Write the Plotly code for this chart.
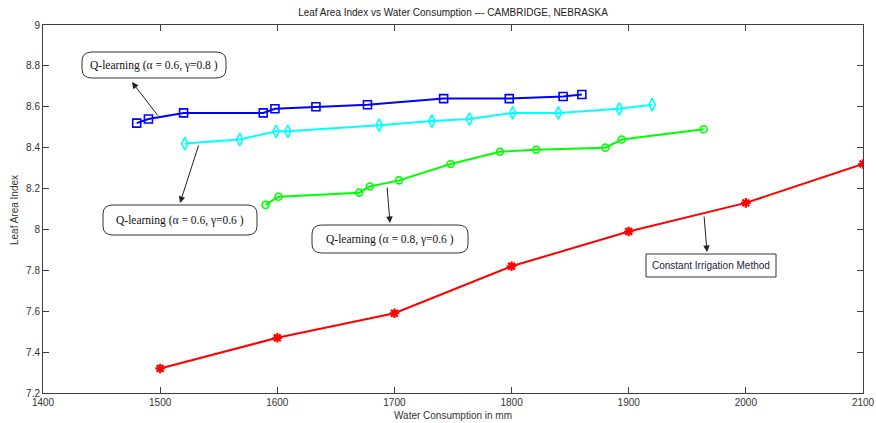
import plotly.graph_objects as go

# ---- data ----
blue_x = [1480, 1490, 1520, 1588, 1598, 1633, 1677, 1742, 1798, 1844, 1860]
blue_y = [8.52, 8.54, 8.57, 8.57, 8.59, 8.60, 8.61, 8.64, 8.64, 8.65, 8.66]
cyan_x = [1521, 1568, 1599, 1609, 1687, 1732, 1764, 1801, 1840, 1892, 1920]
cyan_y = [8.42, 8.44, 8.48, 8.48, 8.51, 8.53, 8.54, 8.57, 8.57, 8.59, 8.61]
green_x = [1590, 1601, 1670, 1679, 1704, 1748, 1790, 1821, 1880, 1894, 1964]
green_y = [8.12, 8.16, 8.18, 8.21, 8.24, 8.32, 8.38, 8.39, 8.40, 8.44, 8.49]
red_x = [1500, 1600, 1700, 1800, 1900, 2000, 2100]
red_y = [7.32, 7.47, 7.59, 7.82, 7.99, 8.13, 8.32]

x_ticks = [1400, 1500, 1600, 1700, 1800, 1900, 2000, 2100]
y_ticks = [7.2, 7.4, 7.6, 7.8, 8, 8.2, 8.4, 8.6, 8.8, 9]
y_ticktext = ["7.2", "7.4", "7.6", "7.8", "8", "8.2", "8.4", "8.6", "8.8", "9"]

labels = ["Q-learning (\u03b1 = 0.6, \u03b3=0.8 )",
          "Q-learning (\u03b1 = 0.6, \u03b3=0.6 )",
          "Q-learning (\u03b1 = 0.8, \u03b3=0.6 )",
          "Constant Irrigation Method"]

# ---- layout geometry (pixels) ----
W, H = 876, 423
L, R, T, B = 43, 13, 25, 30
PX0, PX1 = L, W - R
PY0, PY1 = T, H - B
XR = (1400, 2100)
YR = (7.2, 9.0)

def dx(p):
    return XR[0] + (p - PX0) / (PX1 - PX0) * (XR[1] - XR[0])

def dy(p):
    return YR[0] + (PY1 - p) / (PY1 - PY0) * (YR[1] - YR[0])

def ppx(p):
    return (p - PX0) / (PX1 - PX0)

def ppy(p):
    return (PY1 - p) / (PY1 - PY0)

# boxes: (x0, y0, x1, y1, rounded)
boxes = [(82, 52, 226, 78, True),
         (103, 205, 257, 235, True),
         (312, 225, 468, 253, True),
         (646, 254, 776, 277, False)]
# arrows: tail (on line) -> head (at box)
arrows = [((159, 117), (132, 82)),
          ((199, 144), (180, 203)),
          ((387, 186), (390, 223)),
          ((704, 215), (707, 252))]

fig = go.Figure()
fig.add_trace(go.Scatter(x=blue_x, y=blue_y, mode="lines+markers",
                         line=dict(color="#0000FF", width=2),
                         marker=dict(symbol="square-open", size=8, color="#0000FF",
                                     line=dict(width=1.6, color="#0000FF"))))
fig.add_trace(go.Scatter(x=cyan_x, y=cyan_y, mode="lines+markers",
                         line=dict(color="#00FFFF", width=2),
                         marker=dict(symbol="diamond-tall-open", size=9, color="#00FFFF",
                                     line=dict(width=1.6, color="#00FFFF"))))
fig.add_trace(go.Scatter(x=green_x, y=green_y, mode="lines+markers",
                         line=dict(color="#00FF00", width=2),
                         marker=dict(symbol="circle-open", size=7, color="#00FF00",
                                     line=dict(width=1.6, color="#00FF00"))))
fig.add_trace(go.Scatter(x=red_x, y=red_y, mode="lines+markers",
                         line=dict(color="#FF0000", width=2),
                         marker=dict(symbol="asterisk-open", size=8, color="#FF0000",
                                     line=dict(width=2.2, color="#FF0000"))))

shapes = []
annotations = []
for (x0, y0, x1, y1, rnd), text in zip(boxes, labels):
    if rnd:
        rx, ry = 10, 9
        pts = [
            f"M {ppx(x0+rx)},{ppy(y0)}",
            f"L {ppx(x1-rx)},{ppy(y0)}",
            f"Q {ppx(x1)},{ppy(y0)} {ppx(x1)},{ppy(y0+ry)}",
            f"L {ppx(x1)},{ppy(y1-ry)}",
            f"Q {ppx(x1)},{ppy(y1)} {ppx(x1-rx)},{ppy(y1)}",
            f"L {ppx(x0+rx)},{ppy(y1)}",
            f"Q {ppx(x0)},{ppy(y1)} {ppx(x0)},{ppy(y1-ry)}",
            f"L {ppx(x0)},{ppy(y0+ry)}",
            f"Q {ppx(x0)},{ppy(y0)} {ppx(x0+rx)},{ppy(y0)}",
            "Z",
        ]
        shapes.append(dict(type="path", xref="paper", yref="paper", path=" ".join(pts),
                           line=dict(color="#333333", width=1), fillcolor="white"))
        font = dict(family="Liberation Serif", size=11.5, color="#111111")
    else:
        shapes.append(dict(type="rect", xref="paper", yref="paper",
                           x0=ppx(x0), x1=ppx(x1), y0=ppy(y1), y1=ppy(y0),
                           line=dict(color="#333333", width=1), fillcolor="white"))
        font = dict(family="Liberation Sans", size=10, color="#222244")
    annotations.append(dict(xref="paper", yref="paper", x=ppx((x0 + x1) / 2),
                            y=ppy((y0 + y1) / 2), text=text, showarrow=False,
                            font=font, xanchor="center", yanchor="middle"))

for (tx, ty), (hx, hy) in arrows:
    annotations.append(dict(xref="x", yref="y", axref="x", ayref="y",
                            x=dx(hx), y=dy(hy), ax=dx(tx), ay=dy(ty), text="",
                            showarrow=True, arrowhead=2, arrowsize=1.3, arrowwidth=1,
                            arrowcolor="#222222"))

# axis titles placed as annotations in pixel positions
annotations.append(dict(xref="paper", yref="paper", x=ppx((PX0 + PX1) / 2), y=ppy(415),
                        text="Water Consumption in mm", showarrow=False,
                        xanchor="center", yanchor="middle",
                        font=dict(family="Liberation Sans", size=10, color="#333333")))
annotations.append(dict(xref="paper", yref="paper", x=ppx(14), y=ppy(210),
                        text="Leaf Area Index", showarrow=False, textangle=-90,
                        xanchor="center", yanchor="middle",
                        font=dict(family="Liberation Sans", size=10, color="#333333")))

axis_common = dict(showgrid=False, zeroline=False, showline=True, linecolor="#404040",
                   linewidth=1, mirror="ticks", ticks="inside", ticklen=6,
                   automargin=False,
                   tickcolor="#404040", tickfont=dict(family="Liberation Sans", size=10,
                                                      color="#333333"))

fig.update_layout(
    width=W, height=H,
    margin=dict(l=L, r=R, t=T, b=B, pad=0, autoexpand=False),
    paper_bgcolor="white", plot_bgcolor="white",
    showlegend=False,
    title=dict(text="Leaf Area Index vs Water Consumption --- CAMBRIDGE, NEBRASKA",
               x=(PX0 + PX1) / 2 / W, xanchor="center", y=1 - 12 / H, yanchor="middle",
               font=dict(family="Liberation Sans", size=10, color="#222222")),
    xaxis=dict(range=list(XR), tickvals=x_ticks, ticktext=[str(v) for v in x_ticks],
               **axis_common),
    yaxis=dict(range=list(YR), tickvals=y_ticks, ticktext=y_ticktext,
               **axis_common),
    shapes=shapes,
    annotations=annotations,
)

post = ("document.documentElement.style.margin='0';"
        "document.documentElement.style.padding='0';"
        "document.documentElement.style.overflow='hidden';"
        "document.body.style.margin='0';"
        "document.body.style.padding='0';"
        "document.body.style.overflow='hidden';")
fig.write_html("out.html", config={"displayModeBar": False}, post_script=post)
